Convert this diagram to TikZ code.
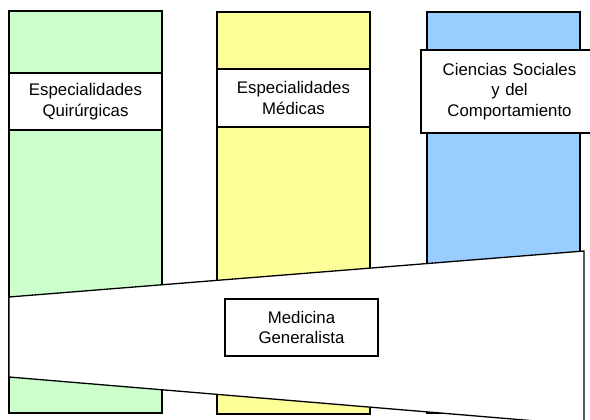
\documentclass[tikz,border=0pt]{standalone}
\usepackage{fontspec}
\setmainfont{Liberation Sans}
\definecolor{colgreen}{HTML}{CCFFCC}
\definecolor{colyellow}{HTML}{FFFF99}
\definecolor{colblue}{HTML}{99CCFF}
\begin{document}
\begin{tikzpicture}[x=1pt,y=-1pt,
  colbox/.style={draw=black,line width=1.3pt,inner sep=0pt,minimum width=153pt},
  lbl/.style={draw=black,fill=white,line width=1.3pt,align=center,inner sep=0pt,
    font=\fontsize{16.8}{20.5}\selectfont},
]
\useasboundingbox (0,0) rectangle (590,420);
\clip (0,0) rectangle (590,420);
\fill[white] (0,0) rectangle (590,420);
% columns
\node[colbox,fill=colgreen,minimum height=402pt] (cg) at (85.5,212) {};
\node[colbox,fill=colyellow,minimum height=402pt] (cy) at (293.5,213) {};
\node[colbox,fill=colblue,minimum height=401pt] (cb) at (503.5,212.5) {};
% labels
\node[lbl,minimum width=153pt,minimum height=57pt] (quir) at (85.5,101.5) {Especialidades\\Quirúrgicas};
\node[lbl,minimum width=153pt,minimum height=58pt] (med) at (293.5,98) {Especialidades\\Médicas};
\node[lbl,minimum width=177pt,minimum height=83pt,text width=177pt] (soc) at (509.5,91.5) {Ciencias Sociales\\y del\\Comportamiento};
% wedge
\coordinate (w1) at (9,297);
\coordinate (w2) at (584,251);
\coordinate (w3) at (584,425);
\coordinate (w4) at (9,377);
\draw[line width=1.3pt,fill=white] (w1) -- (w2) -- (w3) -- (w4) -- cycle;
\node[lbl,minimum width=153pt,minimum height=57pt] (gen) at (301.5,327.5) {Medicina\\Generalista};
\end{tikzpicture}
\end{document}
